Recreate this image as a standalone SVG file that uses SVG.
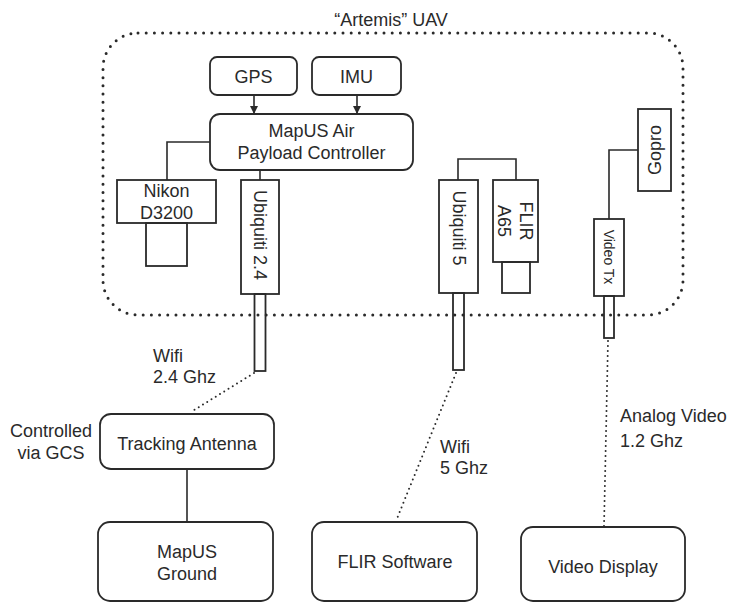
<svg xmlns="http://www.w3.org/2000/svg" width="730" height="604" viewBox="0 0 730 604">
<defs>
<style>
text{font-family:"Liberation Sans",Arial,sans-serif;font-size:18px;fill:#2a2a2a}
.c{text-anchor:middle}
.v{text-anchor:middle;dominant-baseline:central}
.b{fill:#fff;stroke:#2a2a2a;stroke-width:1.8}
.a{fill:none;stroke:#2a2a2a;stroke-width:1.8}
.ln{fill:none;stroke:#2a2a2a;stroke-width:1.6}
.dot{fill:none;stroke:#2a2a2a;stroke-width:2;stroke-linecap:round;stroke-dasharray:0 5}
.border{fill:none;stroke:#2a2a2a;stroke-width:3;stroke-linecap:round;stroke-dasharray:0 8.2}
</style>
<marker id="arr" markerWidth="8" markerHeight="8" refX="7" refY="4" orient="auto" markerUnits="userSpaceOnUse">
<path d="M0,0 L8,4 L0,8 Z" fill="#2a2a2a"/>
</marker>
</defs>
<rect width="730" height="604" fill="#fff"/>

<g id="uav">
<rect class="border" x="103" y="33" width="580" height="282" rx="35"/>
<text class="c" x="391" y="26">“Artemis” UAV</text>
</g>

<g id="connectors">
<line class="ln" x1="254" y1="95" x2="254" y2="113" marker-end="url(#arr)"/>
<line class="ln" x1="357" y1="95" x2="357" y2="113" marker-end="url(#arr)"/>
<polyline class="ln" points="210,142 167,142 167,180"/>
<line class="ln" x1="260" y1="170" x2="260" y2="180"/>
<polyline class="ln" points="458,180 458,159 516,159 516,180"/>
<polyline class="ln" points="638,150 609,150 609,219"/>
<line class="ln" x1="187" y1="469" x2="187" y2="522"/>
<line class="dot" x1="254" y1="373" x2="191" y2="412"/>
<line class="dot" x1="456" y1="373" x2="396" y2="521"/>
<line class="dot" x1="608" y1="341" x2="604" y2="526"/>
<text x="153" y="362">Wifi</text>
<text x="153" y="383">2.4 Ghz</text>
<text x="440" y="453">Wifi</text>
<text x="440" y="474">5 Ghz</text>
<text x="620" y="422">Analog Video</text>
<text x="620" y="447">1.2 Ghz</text>
</g>

<g id="gps">
<rect class="b" x="210" y="57" width="87" height="38" rx="7"/>
<text class="c" x="253.5" y="83">GPS</text>
</g>
<g id="imu">
<rect class="b" x="312" y="57" width="89" height="38" rx="7"/>
<text class="c" x="356.5" y="83">IMU</text>
</g>
<g id="controller">
<rect class="b" x="210" y="114" width="203" height="56" rx="10"/>
<text class="c" x="311.5" y="137">MapUS Air</text>
<text class="c" x="311.5" y="159">Payload Controller</text>
</g>
<g id="nikon">
<rect class="b" x="117" y="180" width="99" height="43"/>
<rect class="a" x="146" y="223" width="41" height="43"/>
<text class="c" x="166.5" y="197">Nikon</text>
<text class="c" x="166.5" y="219">D3200</text>
</g>
<g id="ubiquiti24">
<rect class="b" x="241" y="180" width="38" height="114"/>
<rect class="a" x="254.5" y="294" width="11" height="77"/>
<text class="v" transform="translate(260,235) rotate(90)" x="0" y="0">Ubiquiti 2.4</text>
</g>
<g id="ubiquiti5">
<rect class="b" x="439" y="180" width="39" height="113"/>
<rect class="a" x="453" y="293" width="11" height="77"/>
<text class="v" transform="translate(458.5,228) rotate(90)" x="0" y="0">Ubiquiti 5</text>
</g>
<g id="flir">
<rect class="b" x="493" y="180" width="45" height="82"/>
<rect class="a" x="502" y="262" width="28" height="31"/>
<text class="v" transform="translate(515,221) rotate(90)" x="0" y="-11">FLIR</text>
<text class="v" transform="translate(515,221) rotate(90)" x="0" y="11">A65</text>
</g>
<g id="gopro">
<rect class="b" x="638" y="109" width="33" height="82"/>
<text class="v" transform="translate(654.5,150) rotate(-90)" x="0" y="0">Gopro</text>
</g>
<g id="videotx">
<rect class="b" x="594" y="219" width="30" height="77"/>
<rect class="a" x="604" y="296" width="10" height="42"/>
<text class="v" style="font-size:14px" transform="translate(609,257) rotate(90)" x="0" y="0">Video Tx</text>
</g>

<g id="tracking">
<rect class="b" x="100" y="414" width="174" height="55" rx="11"/>
<text class="c" x="187" y="450">Tracking Antenna</text>
<text class="c" x="51" y="437">Controlled</text>
<text class="c" x="51" y="459">via GCS</text>
</g>
<g id="ground">
<rect class="b" x="98" y="522" width="175" height="79" rx="12"/>
<text class="c" x="187" y="558">MapUS</text>
<text class="c" x="187" y="580">Ground</text>
</g>
<g id="flirsw">
<rect class="b" x="312" y="522" width="165" height="79" rx="12"/>
<text class="c" x="395" y="568">FLIR Software</text>
</g>
<g id="display">
<rect class="b" x="521" y="527" width="164" height="74" rx="12"/>
<text class="c" x="603" y="573">Video Display</text>
</g>
</svg>
